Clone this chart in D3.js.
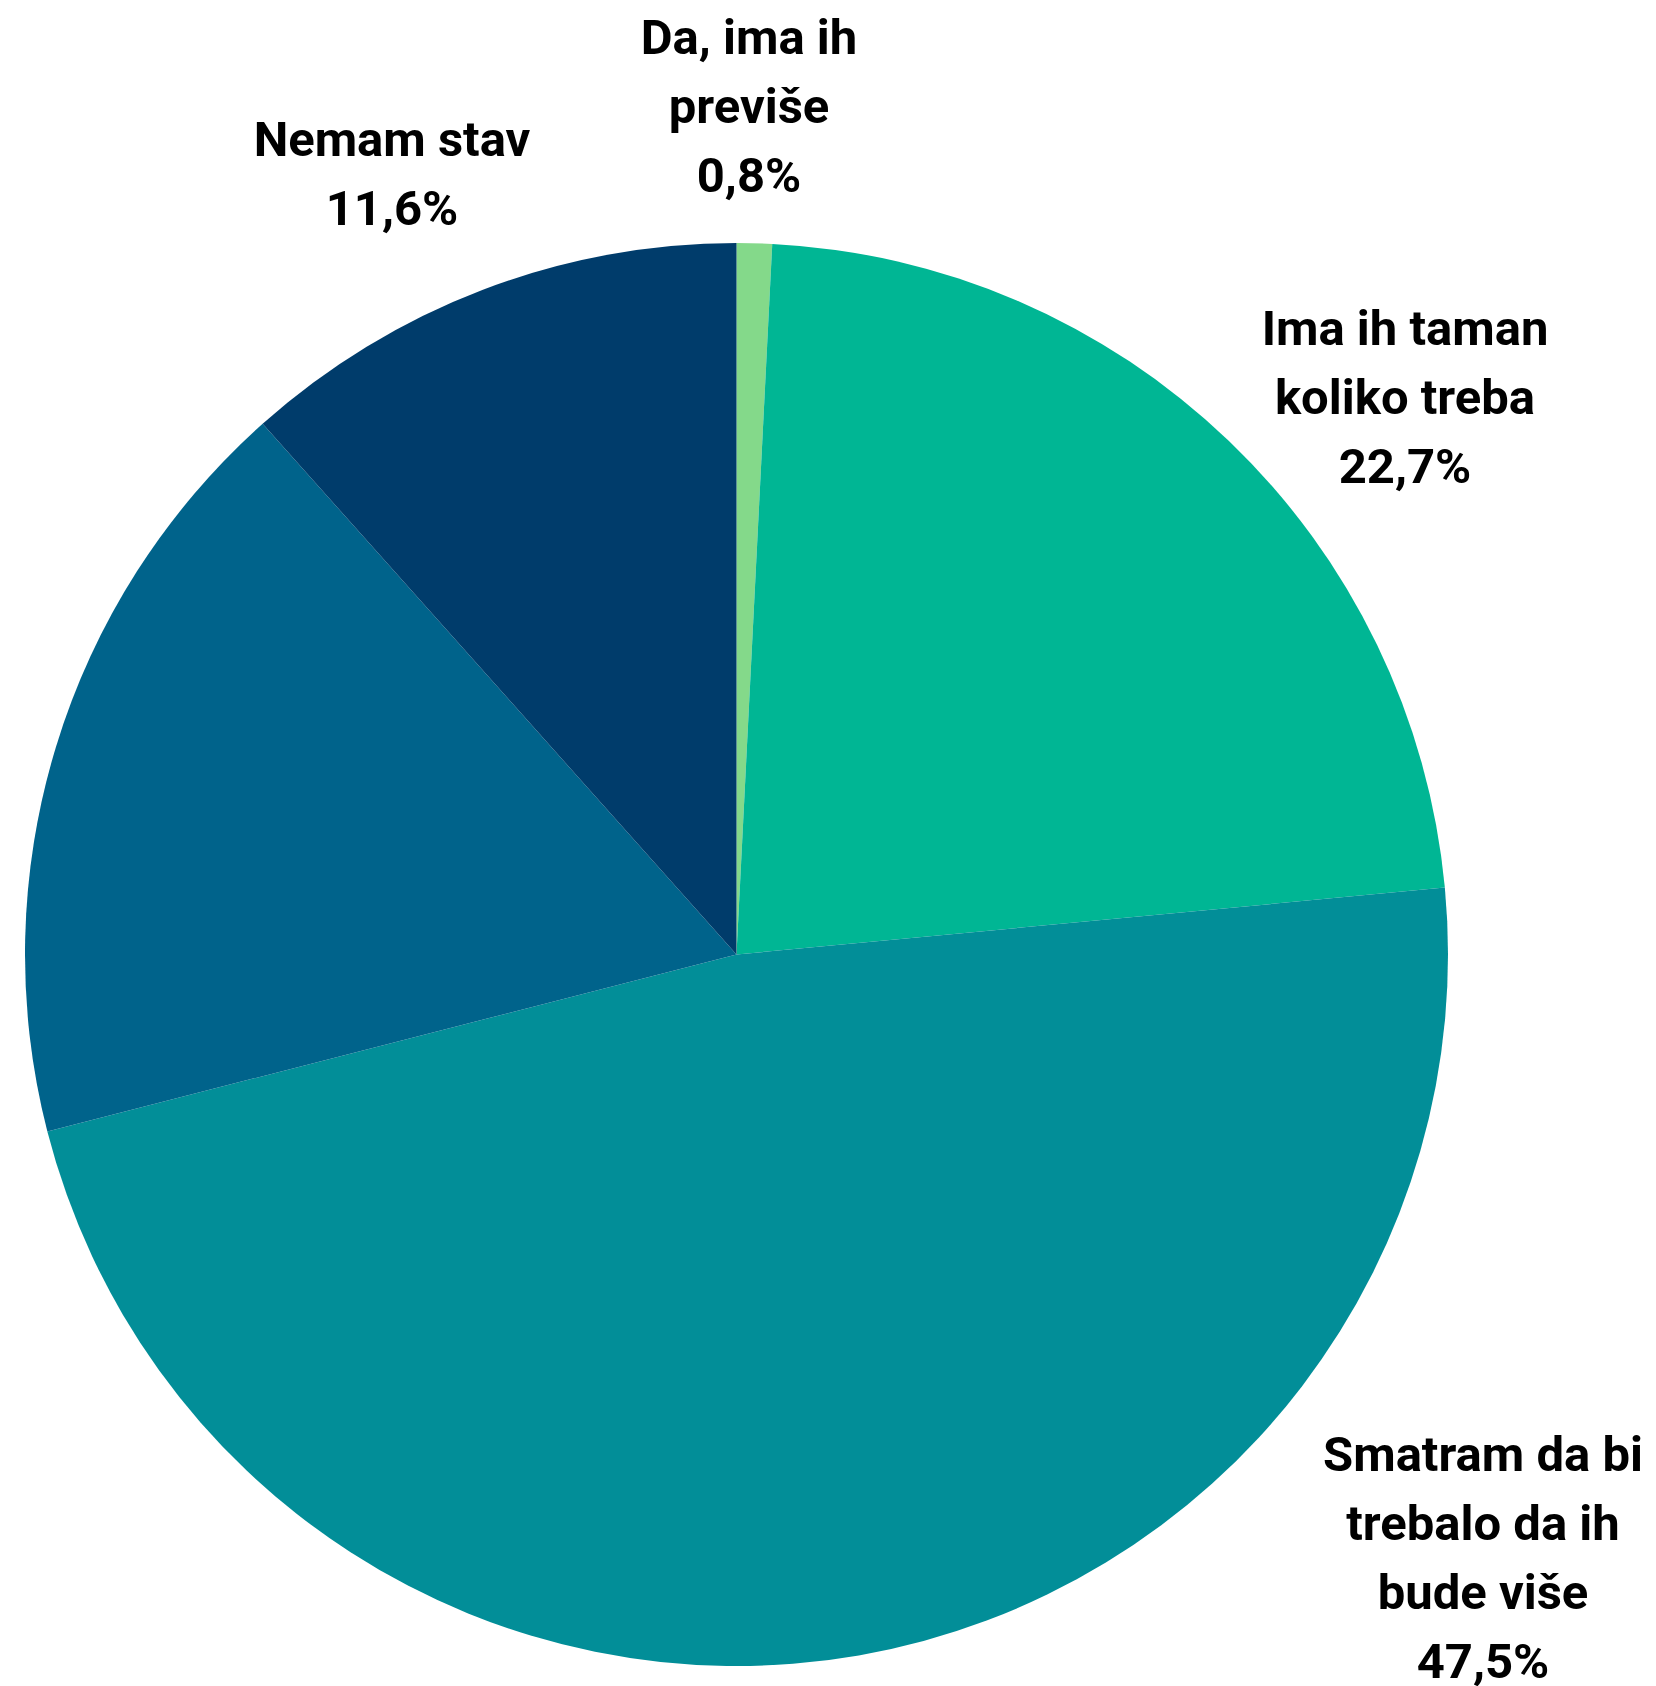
<!DOCTYPE html>
<html>
<head>
<meta charset="utf-8">
<script src="https://cdn.jsdelivr.net/npm/d3@7"></script>
<style>
html,body{margin:0;padding:0;background:#fff;}
svg{display:block;}
text{font-family:Roboto,"Noto Sans",sans-serif;font-weight:700;fill:#000;}
</style>
</head>
<body>
<svg id="chart" width="1656" height="1686"></svg>
<script>
// ---- data ----
const categories = [
  "Da, ima ih previše",
  "Ima ih taman koliko treba",
  "Smatram da bi trebalo da ih bude više",
  "",
  "Nemam stav"
];
const values = [0.8, 22.7, 47.5, 17.4, 11.6];
const labelLines = [
  ["Da, ima ih", "previše", "0,8%"],
  ["Ima ih taman", "koliko treba", "22,7%"],
  ["Smatram da bi", "trebalo da ih", "bude više", "47,5%"],
  [],
  ["Nemam stav", "11,6%"]
];
const colors = ["#84D98A", "#00B694", "#028E98", "#00638B", "#003C6B"];

// ---- layout ----
const W = 1656, H = 1686;
const cx = 736.5, cy = 954.5, R = 711.5;
// label anchor (center x, first baseline) per slice
const labelAnchor = [
  {x: 749, y: 54},
  {x: 1405, y: 345},
  {x: 1483, y: 1471},
  null,
  {x: 392, y: 156}
];
const lineH = 69;

const svg = d3.select("#chart");
const g = svg.append("g").attr("transform", `translate(${cx},${cy})`);

const pie = d3.pie().sort(null).value(d => d.v);
const arc = d3.arc().innerRadius(0).outerRadius(R);
const color = d3.scaleOrdinal().domain(categories.map((c,i)=>i)).range(colors);

const data = values.map((v,i) => ({v, i, name: categories[i]}));
const arcs = pie(data);

g.selectAll("path").data(arcs).enter().append("path")
  .attr("d", arc)
  .attr("fill", d => color(d.data.i));

const lab = svg.append("g");
arcs.forEach(d => {
  const i = d.data.i;
  const a = labelAnchor[i];
  if (!a || !labelLines[i].length) return;
  const t = lab.append("text")
    .attr("text-anchor", "middle")
    .attr("font-size", 49);
  labelLines[i].forEach((ln, k) => {
    t.append("tspan").attr("x", a.x).attr("y", a.y + k*lineH).text(ln);
  });
});
</script>
</body>
</html>
